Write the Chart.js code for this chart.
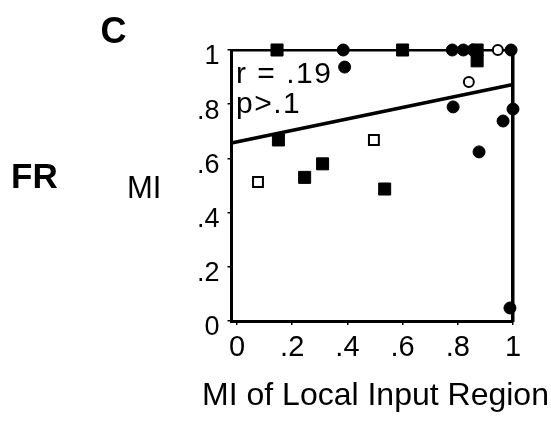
<!DOCTYPE html>
<html>
<head>
<meta charset="utf-8">
<script src="https://cdn.jsdelivr.net/npm/chart.js@4.4.1/dist/chart.umd.min.js"></script>
<style>
  html, body { margin: 0; padding: 0; background: #fff; }
  #wrap { width: 551px; height: 422px; }
</style>
</head>
<body>
<div id="wrap"><canvas id="miChart" width="551" height="422"></canvas></div>
<script>
// values
var filledSquareX = [0.145, 0.60, 0.87, 0.87, 0.15, 0.31, 0.245, 0.535];
var filledSquareY = [1.0, 1.0, 1.0, 0.96, 0.668, 0.58, 0.53, 0.487];
var openSquareX = [0.076, 0.496];
var openSquareY = [0.513, 0.668];
var filledCircleX = [0.385, 0.39, 0.78, 0.82, 0.855, 0.993, 0.783, 1.0, 0.964, 0.877, 0.989];
var filledCircleY = [1.0, 0.937, 1.0, 1.0, 1.0, 1.0, 0.79, 0.782, 0.738, 0.624, 0.048];
var openCircleX = [0.84, 0.945];
var openCircleY = [0.882, 1.0];
var fitX = [-0.02, 1.0];
var fitY = [0.657, 0.873];

var tickValues = [0, 0.2, 0.4, 0.6, 0.8, 1];
var tickLabels = ['0', '.2', '.4', '.6', '.8', '1'];

var FONT = "'Liberation Sans', Arial, Helvetica, sans-serif";

function pts(xs, ys) {
    return xs.map(function(x, i) { return {x: x, y: ys[i]}; });
}

function fixedTicks(scale) {
    scale.ticks = tickValues.map(function(v) { return {value: v}; });
}

// panel letter, row/column labels, stats text and x title
// (the x title is wider than the plot, so the axis title would squeeze it)
var annotations = {
    id: 'annotations',
    afterDraw: function(chart) {
        var ctx = chart.ctx;
        ctx.save();
        ctx.fillStyle = '#000';
        ctx.textBaseline = 'alphabetic';
        ctx.textAlign = 'center';
        ctx.font = 'bold 36px ' + FONT;
        ctx.fillText('C', 113.5, 43);
        ctx.font = '32px ' + FONT;
        ctx.fillText('MI of Local Input Region', 375.5, 405);
        ctx.textAlign = 'left';
        ctx.font = 'bold 35px ' + FONT;
        ctx.fillText('FR', 11, 188);
        ctx.font = '31px ' + FONT;
        ctx.fillText('MI', 127, 198);
        ctx.font = '30px ' + FONT;
        ctx.letterSpacing = '1.5px';
        ctx.fillText('r = .19', 236, 83);
        ctx.fillText('p>.1', 236, 113);
        ctx.restore();
    }
};

var ctx = document.getElementById('miChart').getContext('2d');
var miChart = new Chart(ctx, {
    type: 'scatter',
    data: {
        datasets: [{
            label: 'fit',
            data: pts(fitX, fitY),
            showLine: true,
            borderColor: '#000',
            borderWidth: 3.5,
            pointRadius: 0,
            clip: false,
            order: 2
        }, {
            label: 'filled squares',
            data: pts(filledSquareX, filledSquareY),
            pointStyle: 'rect',
            pointRadius: 8.5,
            backgroundColor: '#000',
            borderColor: '#000',
            borderWidth: 1,
            clip: false,
            order: 1
        }, {
            label: 'open squares',
            data: pts(openSquareX, openSquareY),
            pointStyle: 'rect',
            pointRadius: 7,
            backgroundColor: '#fff',
            borderColor: '#000',
            borderWidth: 2,
            clip: false,
            order: 1
        }, {
            label: 'filled circles',
            data: pts(filledCircleX, filledCircleY),
            pointStyle: 'circle',
            pointRadius: 6,
            backgroundColor: '#000',
            borderColor: '#000',
            borderWidth: 1,
            clip: false,
            order: 1
        }, {
            label: 'open circles',
            data: pts(openCircleX, openCircleY),
            pointStyle: 'circle',
            pointRadius: 5,
            backgroundColor: '#fff',
            borderColor: '#000',
            borderWidth: 2,
            clip: false,
            order: 0
        }]
    },
    options: {
        responsive: false,
        animation: false,
        layout: {
            padding: {left: 0, right: 38, top: 50, bottom: 0}
        },
        plugins: {
            legend: {display: false},
            tooltip: {enabled: false}
        },
        scales: {
            x: {
                type: 'linear',
                position: 'bottom',
                min: -0.02,
                max: 1,
                afterBuildTicks: fixedTicks,
                afterFit: function(s) { s.height = 101; },
                grid: {drawOnChartArea: false, drawTicks: true, tickLength: 4, color: '#000', lineWidth: 1.5},
                border: {display: true, color: '#000', width: 3},
                ticks: {
                    padding: 6,
                    color: '#000',
                    maxRotation: 0,
                    font: {family: FONT, size: 29},
                    callback: function(v, i) { return tickLabels[i]; }
                }
            },
            y: {
                type: 'linear',
                position: 'left',
                min: 0,
                max: 1,
                afterBuildTicks: fixedTicks,
                afterFit: function(s) { s.width = 231.5; },
                grid: {drawOnChartArea: false, drawTicks: true, tickLength: 4, color: '#000', lineWidth: 1.5},
                border: {display: true, color: '#000', width: 3},
                ticks: {
                    padding: 8,
                    labelOffset: 7,
                    color: '#000',
                    font: {family: FONT, size: 27},
                    callback: function(v, i) { return tickLabels[i]; }
                }
            },
            x2: {
                type: 'linear',
                position: 'top',
                min: -0.02,
                max: 1,
                afterFit: function(s) { s.height = 0; },
                grid: {display: false},
                ticks: {display: false},
                border: {display: true, color: '#000', width: 2.5}
            },
            y2: {
                type: 'linear',
                position: 'right',
                min: 0,
                max: 1,
                afterFit: function(s) { s.width = 0; },
                grid: {display: false},
                ticks: {display: false},
                border: {display: true, color: '#000', width: 3.5}
            }
        }
    },
    plugins: [annotations]
});
</script>
</body>
</html>
